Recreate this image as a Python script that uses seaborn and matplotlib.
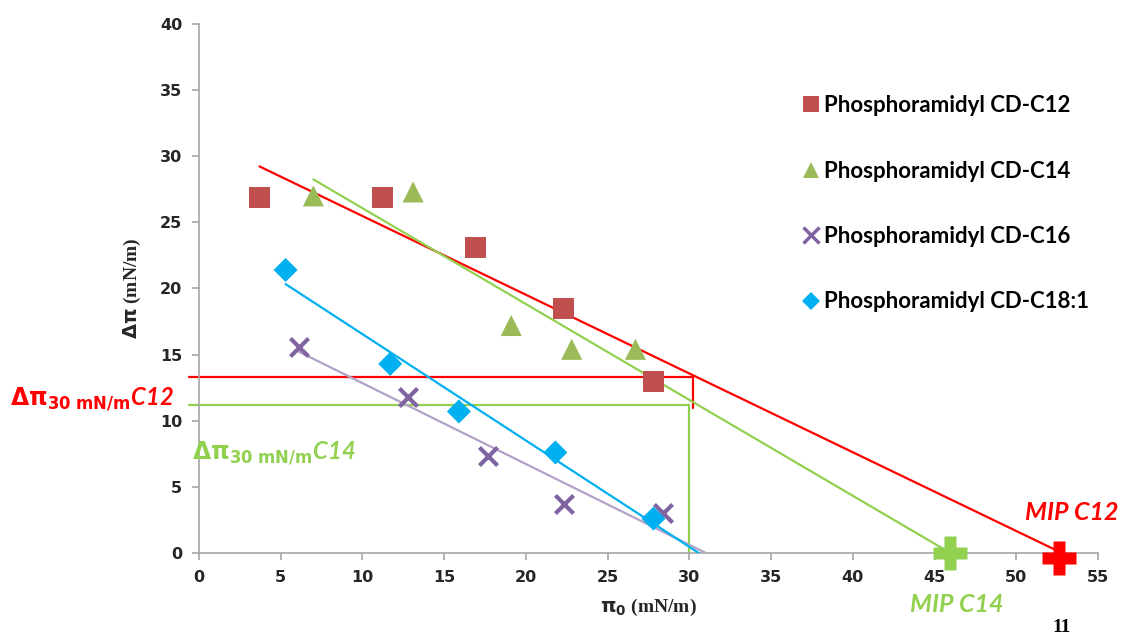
import numpy as np
import pandas as pd
import matplotlib
matplotlib.use("Agg")
import matplotlib.pyplot as plt
import seaborn as sns

# values
series = ["Phosphoramidyl CD-C12", "Phosphoramidyl CD-C14",
          "Phosphoramidyl CD-C16", "Phosphoramidyl CD-C18:1"]
x_c12 = [3.7, 11.2, 16.9, 22.3, 27.8]
y_c12 = [26.9, 26.9, 23.1, 18.5, 13.0]
x_c14 = [7.0, 13.1, 19.1, 22.8, 26.7]
y_c14 = [27.0, 27.3, 17.2, 15.4, 15.4]
x_c16 = [6.1, 12.8, 17.7, 22.3, 28.4]
y_c16 = [15.6, 11.8, 7.3, 3.7, 3.0]
x_c18 = [5.3, 11.7, 15.9, 21.8, 27.8]
y_c18 = [21.4, 14.3, 10.7, 7.6, 2.6]

mip_c12 = (52.6, -0.4)
mip_c14 = (45.95, 0.0)
dpi30_c12 = 13.3
dpi30_c14 = 11.2

marker_colors = ["#C0504D", "#9BBB59", "#8064A2", "#00B0F0"]
line_colors = ["#FF0000", "#92D050", "#B3A2C7", "#00B0F0"]
markers = ["s", "^", "X", "D"]
sizes = [230, 230, 170, 150]

xs = [x_c12, x_c14, x_c16, x_c18]
ys = [y_c12, y_c14, y_c16, y_c18]

sns.set_style("white")
plt.rcParams["font.family"] = ["Lato", "DejaVu Sans"]
plt.rcParams["mathtext.default"] = "bf"

fig = plt.figure(figsize=(11.24, 6.39), dpi=100)
ax = fig.add_axes([0.177, 0.1346, 0.800, 0.8279])

handles = []
for i, name in enumerate(series):
    df = pd.DataFrame({"x": xs[i], "y": ys[i]})
    if markers[i] == "X":
        sns.scatterplot(data=df, x="x", y="y", ax=ax, marker="x", s=sizes[i],
                        color=marker_colors[i], linewidth=3, zorder=4)
    else:
        sns.scatterplot(data=df, x="x", y="y", ax=ax, marker=markers[i], s=sizes[i],
                        color=marker_colors[i], edgecolor="none", zorder=4)
    # linear trendline from first point forward to y = 0
    k, b = np.polyfit(xs[i], ys[i], 1)
    xx = np.array([min(xs[i]), -b / k])
    ax.plot(xx, k * xx + b, color=line_colors[i], lw=1.6, zorder=3)
    mk = "x" if markers[i] == "X" else markers[i]
    handles.append(plt.Line2D([], [], ls="none", marker=mk, color=marker_colors[i],
                              markersize=11 if mk != "D" else 9,
                              markeredgewidth=2.5 if mk == "x" else 0))

# 30 mN/m construction lines
ax.plot([-0.6, 30.2], [dpi30_c12, dpi30_c12], color="#FF0000", lw=1.6, clip_on=False, zorder=2)
ax.plot([30.2, 30.2], [dpi30_c12, 11.0], color="#FF0000", lw=1.6, zorder=2)
ax.plot([-0.6, 30.0], [dpi30_c14, dpi30_c14], color="#92D050", lw=1.6, clip_on=False, zorder=2)
ax.plot([30.0, 30.0], [dpi30_c14, 0], color="#92D050", lw=1.6, zorder=2)

# MIP crosses
ax.plot(*mip_c14, marker="P", markersize=25, color="#92D050", mec="none", clip_on=False, zorder=5)
ax.plot(*mip_c12, marker="P", markersize=25, color="#FF0000", mec="none", clip_on=False, zorder=5)

ax.set_xlim(0, 55)
ax.set_ylim(0, 40)
ax.set_xticks(range(0, 56, 5))
ax.set_yticks(range(0, 41, 5))
for s in ["top", "right"]:
    ax.spines[s].set_visible(False)
for s in ["left", "bottom"]:
    ax.spines[s].set_color("#A6A6A6")
    ax.spines[s].set_linewidth(1.2)
ax.tick_params(axis="both", direction="out", length=5, width=1.2, color="#A6A6A6",
               labelsize=11.5, pad=7)
ax.tick_params(axis="both", left=True, bottom=True)
for lab in ax.get_xticklabels() + ax.get_yticklabels():
    lab.set_fontweight("bold")
    lab.set_family("DejaVu Sans")

ax.set_xlabel(r"$\pi_0$ (mN/m)", fontsize=14, fontweight="bold", family="Liberation Serif", labelpad=9)
ax.set_ylabel(r"$\Delta\pi$ (mN/m)", fontsize=14, fontweight="bold", family="Liberation Serif", labelpad=12)

leg = ax.legend(handles, series, loc="upper left", bbox_to_anchor=(791 / 1124, 1 - 84 / 639),
                bbox_transform=fig.transFigure, frameon=False, fontsize=16,
                handlelength=0.8, handletextpad=0.2, labelspacing=2.0, borderpad=0)
for t in leg.get_texts():
    t.set_fontweight("bold")
    t.set_color("black")

fig.text(10 / 1124, 1 - 405 / 639, r"$\Delta\pi_{30\ mN/m}$C12", color="#FF0000",
         fontsize=17, fontweight="bold", fontstyle="italic", va="baseline")
fig.text(192 / 1124, 1 - 459 / 639, r"$\Delta\pi_{30\ mN/m}$C14", color="#92D050",
         fontsize=17, fontweight="bold", fontstyle="italic", va="baseline")
fig.text(1072 / 1124, 1 - 512 / 639, "MIP C12", color="#FF0000", fontsize=18,
         fontweight="bold", fontstyle="italic", ha="center", va="center")
fig.text(957 / 1124, 1 - 605 / 639, "MIP C14", color="#92D050", fontsize=18,
         fontweight="bold", fontstyle="italic", ha="center", va="center")
fig.text(1062 / 1124, 1 - 628 / 639, "11", color="black", fontsize=14,
         fontweight="bold", family="Liberation Serif", ha="center", va="center")

fig.savefig("out.png", dpi=100)
